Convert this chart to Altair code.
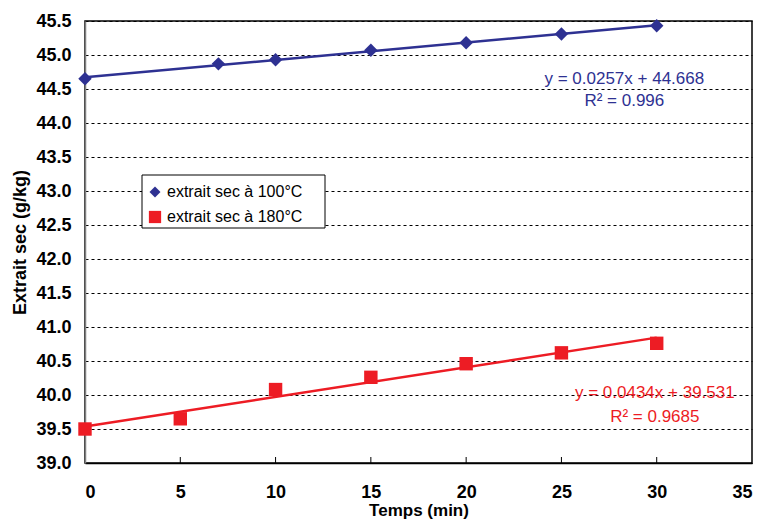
import altair as alt
import pandas as pd

# Data
series_names = ["extrait sec à 100°C", "extrait sec à 180°C"]
t_100 = [0, 7, 10, 15, 20, 25, 30]
v_100 = [44.65, 44.87, 44.93, 45.07, 45.18, 45.31, 45.43]
t_180 = [0, 5, 10, 15, 20, 25, 30]
v_180 = [39.50, 39.65, 40.08, 40.26, 40.46, 40.62, 40.76]

x_tick_values = [0, 5, 10, 15, 20, 25, 30, 35]
y_tick_values = [39.0, 39.5, 40.0, 40.5, 41.0, 41.5, 42.0, 42.5, 43.0, 43.5, 44.0, 44.5, 45.0, 45.5]

eq_texts = ["y = 0.0257x + 44.668", "R² = 0.996", "y = 0.0434x + 39.531", "R² = 0.9685"]
eq_series = [series_names[0], series_names[0], series_names[1], series_names[1]]
eq_x = [28.3, 28.3, 29.9, 29.9]
eq_y = [44.65, 44.32, 40.03, 39.68]

BLUE = "#2E3192"
RED = "#ED1C24"
SHAPES = ["diamond", "square"]

df = pd.DataFrame(
    {
        "t": t_100 + t_180,
        "v": v_100 + v_180,
        "series": [series_names[0]] * len(t_100) + [series_names[1]] * len(t_180),
    }
)
eq_df = pd.DataFrame({"text": eq_texts, "series": eq_series, "x": eq_x, "y": eq_y})
ticks_df = pd.DataFrame({"t": x_tick_values[1:-1]})

W, H = 667, 442

xscale = alt.Scale(domain=[0, 35], nice=False, zero=False)
yscale = alt.Scale(domain=[39.0, 45.5], nice=False, zero=False)
color_scale = alt.Scale(domain=series_names, range=[BLUE, RED])
shape_scale = alt.Scale(domain=series_names, range=SHAPES)

x_axis = alt.Axis(
    values=x_tick_values,
    title="Temps (min)",
    grid=False,
    ticks=False,
    labelPadding=20,
    titlePadding=1,
    titleFontSize=17,
    domainColor="black",
    domainWidth=1.5,
)
y_axis = alt.Axis(
    values=y_tick_values,
    format=".1f",
    title="Extrait sec (g/kg)",
    grid=True,
    gridColor="black",
    gridDash=[3, 3],
    gridWidth=1,
    ticks=False,
    labelPadding=14,
    titlePadding=6,
    labelOverlap=False,
    domainColor="#808080",
    domainWidth=1.5,
)

X = alt.X("t:Q", scale=xscale, axis=x_axis)
Y = alt.Y("v:Q", scale=yscale, axis=y_axis)

base = alt.Chart(df)

lines = base.transform_regression("t", "v", groupby=["series"]).mark_line(
    strokeWidth=2.5
).encode(
    x=X,
    y=Y,
    stroke=alt.Stroke("series:N", scale=color_scale, legend=None),
)

points = base.mark_point(filled=True, opacity=1, size=180).encode(
    x=X,
    y=Y,
    color=alt.Color("series:N", scale=color_scale, legend=None),
    shape=alt.Shape("series:N", scale=shape_scale, legend=None),
)

ticks = alt.Chart(ticks_df).mark_rule(color="black", strokeWidth=1).encode(
    x=X,
    y=alt.value(H - 6),
    y2=alt.value(H),
)

eqs = alt.Chart(eq_df).mark_text(
    font="Liberation Sans", fontSize=17, align="center", baseline="middle"
).encode(
    x=alt.X("x:Q", scale=xscale, axis=x_axis),
    y=alt.Y("y:Q", scale=yscale, axis=y_axis),
    text="text:N",
    fill=alt.Fill("series:N", scale=color_scale, legend=None),
)

# Legend box (drawn as layers, placed inside the plot like the reference)
legend_box = alt.Chart(pd.DataFrame({"k": [0]})).mark_rect(
    fill="white", stroke="black", strokeWidth=1
).encode(x=alt.value(57), x2=alt.value(240), y=alt.value(154), y2=alt.value(207))

legend_layers = [legend_box]
legend_rows_y = [171, 196]
legend_sizes = [120, 150]
legend_colors = [BLUE, RED]
for i, name in enumerate(series_names):
    row = pd.DataFrame({"series": [name]})
    legend_layers.append(
        alt.Chart(row)
        .mark_point(filled=True, opacity=1, shape=SHAPES[i], size=legend_sizes[i], color=legend_colors[i])
        .encode(x=alt.value(70), y=alt.value(legend_rows_y[i]))
    )
    legend_layers.append(
        alt.Chart(row)
        .mark_text(font="Liberation Sans", fontSize=16, align="left", baseline="middle", color="black")
        .encode(x=alt.value(82), y=alt.value(legend_rows_y[i]), text="series:N")
    )

chart = (
    alt.layer(lines, ticks, points, eqs, *legend_layers)
    .properties(
        width=W,
        height=H,
        autosize=alt.AutoSizeParams(type="none"),
        padding={"left": 77, "top": 13, "right": 6, "bottom": 57},
        background="white",
    )
    .configure_view(stroke="black", strokeWidth=1.5)
    .configure_axis(
        labelFont="Liberation Sans",
        labelFontSize=18,
        labelFontWeight="bold",
        labelColor="black",
        titleFont="Liberation Sans",
        titleFontSize=18,
        titleFontWeight="bold",
        titleColor="black",
    )
)

chart.save("out.html", embed_options={"renderer": "svg", "actions": False})
